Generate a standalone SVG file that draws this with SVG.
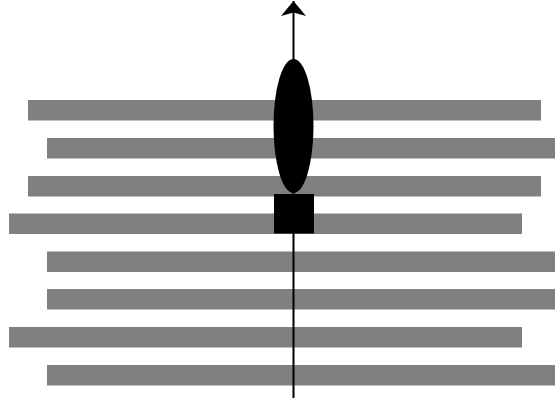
<svg xmlns="http://www.w3.org/2000/svg" width="555" height="402" viewBox="0 0 555 402">
<style>
.bar{fill:#808080}
.axis{stroke:#000;stroke-width:2;fill:none}
</style>
<defs>
<marker id="ah" viewBox="0 0 16 26" refX="15" refY="13" markerWidth="16" markerHeight="26" markerUnits="userSpaceOnUse" orient="auto">
<path d="M0,0.5 L15,13 L0,25.5 L3.5,13 Z" fill="#000"/>
</marker>
</defs>
<rect width="555" height="402" fill="#fff"/>
<g id="bars">
<rect class="bar" x="28" y="100" width="513" height="20.5"/>
<rect class="bar" x="47" y="138" width="513" height="20.5"/>
<rect class="bar" x="28" y="176" width="513" height="20.5"/>
<rect class="bar" x="9" y="213.5" width="513" height="20.5"/>
<rect class="bar" x="47" y="251.5" width="513" height="20.5"/>
<rect class="bar" x="47" y="289" width="513" height="20.5"/>
<rect class="bar" x="9" y="327" width="513" height="20.5"/>
<rect class="bar" x="47" y="365" width="513" height="20.5"/>
</g>
<g id="connectors">
<line class="axis" x1="293.5" y1="398" x2="293.5" y2="1" marker-end="url(#ah)"/>
</g>
<g id="ellipse">
<ellipse cx="293.5" cy="126" rx="20" ry="67" fill="#000"/>
</g>
<g id="square">
<rect x="274" y="194" width="40" height="39.5" fill="#000"/>
</g>
</svg>
